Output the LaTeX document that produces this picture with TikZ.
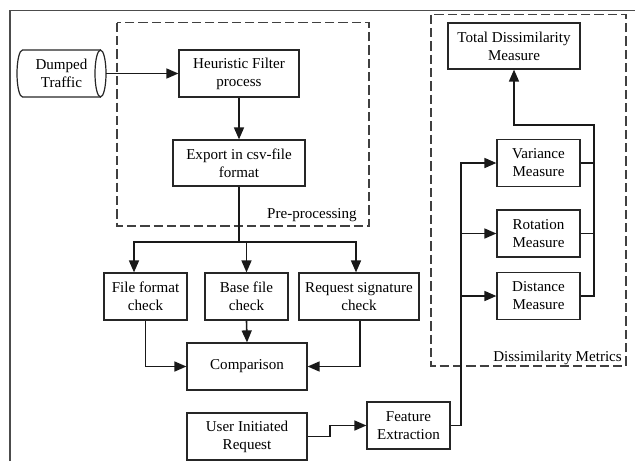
\documentclass[tikz,border=0pt]{standalone}
\usepackage{fontspec}
\setmainfont{Liberation Serif}
\usetikzlibrary{arrows.meta,calc}
\def\pxu{0.75pt}
\tikzset{
  box/.style={draw=black!85, line width=0.9pt, align=center, inner sep=0pt,
    font=\fontsize{11.3}{13.5}\selectfont},
  wide/.style={minimum width=120*\pxu, minimum height=47*\pxu},
  narrow/.style={minimum width=83*\pxu, minimum height=47*\pxu},
  arr/.style={-{Triangle[length=9pt,width=7.5pt]}, line width=1.2pt, draw=black!90},
  conn/.style={line width=1.2pt, draw=black!90},
  grp/.style={draw=black!75, line width=0.9pt, dash pattern=on 7pt off 3pt},
  lbl/.style={font=\fontsize{11.3}{13.5}\selectfont, inner sep=0pt}
}
\begin{document}
\begin{tikzpicture}[x=0.75pt,y=-0.75pt]
\useasboundingbox (0,0) rectangle (635,461);
% outer frame (cropped)
\draw[black!70, line width=0.9pt] (10,461) -- (10,10.5) -- (635,10.5);
% groups
\draw[grp] (117,22.7) rectangle (369,226);
\draw[grp] (431,14.7) rectangle (626,366);
\node[lbl, anchor=base east] (lpre) at (357,218) {Pre-processing};
\node[lbl, anchor=base east] (ldis) at (622,361) {Dissimilarity Metrics};
% cylinder
\node[lbl, minimum width=89*\pxu, minimum height=47*\pxu, align=center] (dt) at (61.5,73.5) {Dumped\\Traffic};
\draw[black!85, line width=0.9pt] (100.5,50) -- (22.5,50)
  arc[start angle=90, end angle=270, x radius=4.125pt, y radius=17.625pt]
  -- (100.5,97);
\draw[black!85, line width=0.9pt] (100.5,73.5) ellipse [x radius=4.125pt, y radius=17.625pt];
% boxes
\node[box, wide] (heur) at (239,73.5) {Heuristic Filter\\process};
\node[box, minimum width=132*\pxu, minimum height=46*\pxu] (exp) at (239,163) {Export in csv-file\\format};
\node[box, narrow] (ffc) at (145.5,296.5) {File format\\check};
\node[box, narrow] (bfc) at (246.5,296.5) {Base file\\check};
\node[box, wide] (rsc) at (359,296.5) {Request signature\\check};
\node[box, wide] (comp) at (247,366.5) {Comparison};
\node[box, wide] (uir) at (247,436.5) {User Initiated\\Request};
\node[box, narrow] (fe) at (408.5,425.5) {Feature\\Extraction};
\node[box, minimum width=132*\pxu, minimum height=46*\pxu] (tot) at (514,46) {Total Dissimilarity\\Measure};
\node[box, narrow] (var) at (538.5,163) {Variance\\Measure};
\node[box, narrow] (rot) at (538.5,233.5) {Rotation\\Measure};
\node[box, narrow] (dist) at (538.5,296) {Distance\\Measure};
% connectors
\draw[arr] (dt.east) -- (heur.west);
\draw[arr] (heur.south) -- (exp.north);
\coordinate (j) at (239,242);
\draw[conn] (exp.south) -- (j);
\draw[arr] (j) -| ($(ffc.north)+(-11.5,0)$);
\draw[arr] (j) -| (bfc.north);
\draw[arr] (j) -| ($(rsc.north)+(-3,0)$);
\draw[arr] (bfc.south) -- (comp.north);
\draw[arr] (ffc.south) |- (comp.west);
\draw[arr] ($(rsc.south)+(1,0)$) |- (comp.east);
\coordinate (s1) at (330,436.5);
\draw[arr] (uir.east) -- (s1) |- (fe.west);
\coordinate (bus) at (461,425.5);
\draw[arr] (fe.east) -- (bus) |- (var.west);
\draw[arr] (bus |- rot.west) -- (rot.west);
\draw[arr] (bus |- dist.west) -- (dist.west);
\coordinate (rb) at (594,296);
\coordinate (rt) at (594,125);
\draw[conn] (var.east) -- (var.east -| rb);
\draw[conn] (rot.east) -- (rot.east -| rb);
\draw[arr] (dist.east) -- (rb) -- (rt) -| (tot.south);
\end{tikzpicture}
\end{document}
